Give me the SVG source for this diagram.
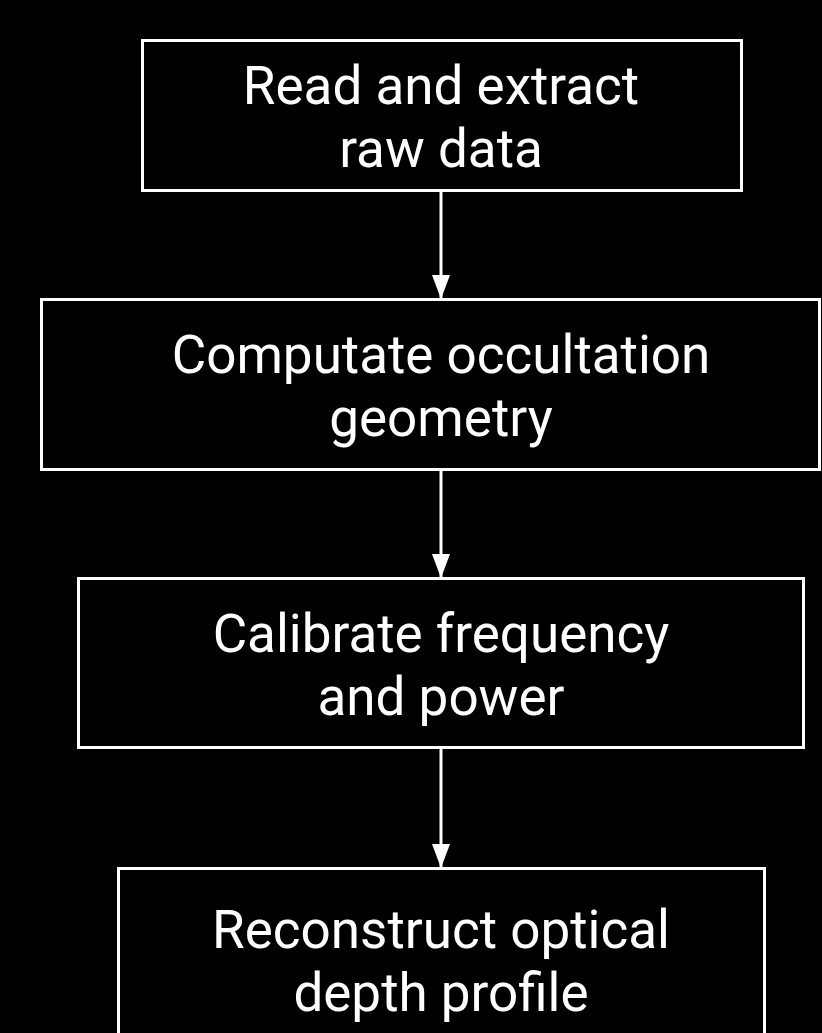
<svg xmlns="http://www.w3.org/2000/svg" width="822" height="1033" viewBox="0 0 822 1033">
<style>
.box{fill:#000;stroke:#fff;stroke-width:3}
.lbl{fill:#fff;font-family:Roboto,"Liberation Sans",sans-serif;font-size:53px;font-weight:400;text-anchor:middle}
.edge{stroke:#fff;stroke-width:3;fill:none}
</style>
<defs>
<marker id="ah" markerUnits="userSpaceOnUse" markerWidth="26" markerHeight="20" refX="24" refY="9" orient="auto">
<path d="M0,0 L24,9 L0,18 Z" fill="#fff"/>
</marker>
</defs>
<rect x="0" y="0" width="822" height="1033" fill="#000"/>
<g id="connectors">
<line class="edge" x1="441" y1="192" x2="441" y2="299" marker-end="url(#ah)"/>
<line class="edge" x1="441" y1="470" x2="441" y2="578" marker-end="url(#ah)"/>
<line class="edge" x1="441" y1="748" x2="441" y2="868" marker-end="url(#ah)"/>
</g>
<g id="n1">
<rect class="box" x="142.5" y="40.5" width="599" height="150"/>
<text class="lbl" x="441" y="104">Read and extract</text>
<text class="lbl" x="441" y="167">raw data</text>
</g>
<g id="n2">
<rect class="box" x="41.5" y="299.5" width="778" height="170"/>
<text class="lbl" x="441" y="373">Computate occultation</text>
<text class="lbl" x="441" y="436">geometry</text>
</g>
<g id="n3">
<rect class="box" x="78.5" y="578.5" width="725" height="169"/>
<text class="lbl" x="441" y="652">Calibrate frequency</text>
<text class="lbl" x="441" y="715">and power</text>
</g>
<g id="n4">
<rect class="box" x="118.5" y="868.5" width="646" height="180"/>
<text class="lbl" x="441" y="948">Reconstruct optical</text>
<text class="lbl" x="441" y="1011">depth profile</text>
</g>
</svg>
